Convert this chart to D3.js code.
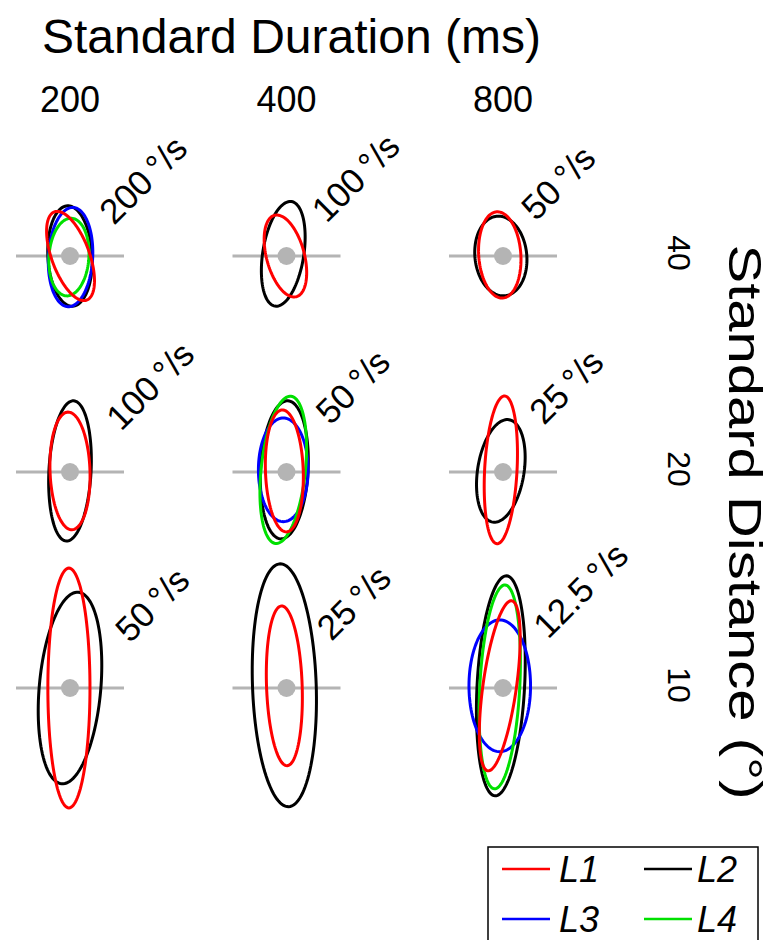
<!DOCTYPE html>
<html>
<head>
<meta charset="utf-8">
<title>Discrimination ellipses</title>
<script src="https://d3js.org/d3.v7.min.js"></script>
<style>
  body { margin: 0; background: #fff; }
  text { font-family: "Liberation Sans", Arial, sans-serif; fill: #000; }
</style>
</head>
<body>
<svg width="771" height="940"></svg>
<script>
// standard conditions
var durations = [200, 400, 800];   // ms, columns
var distances = [40, 20, 10];      // deg, rows
var levels = ["L1", "L2", "L3", "L4"];
var levelColors = ["#ff0000", "#000000", "#0000ff", "#00e000"];

// ellipse per cell (row-major, 40/200 first): [dx, dy, rx, ry, tilt deg], null = not measured
var L1 = [
  [0.01, 0.00, 0.35, 0.87, -20], [-0.02, 0.00, 0.35, 0.78, -15], [-0.06, -0.02, 0.39, 0.80, -4],
  [0.00, -0.02, 0.37, 1.09, -2],  [-0.04, -0.02, 0.35, 1.13, -2], [-0.04, -0.04, 0.30, 1.37, 3],
  [-0.02, 0.00, 0.39, 2.22, 0],   [-0.04, -0.04, 0.33, 1.48, -2], [-0.06, -0.04, 0.31, 1.59, 8]
];
var L2 = [
  [0.00, 0.00, 0.41, 0.93, -3],   [-0.06, -0.04, 0.38, 0.98, 9],  [-0.04, 0.00, 0.48, 0.74, -6],
  [0.00, -0.02, 0.39, 1.30, 3],   [-0.04, -0.04, 0.44, 1.28, 3],  [-0.04, -0.02, 0.43, 0.96, 9],
  [0.00, 0.00, 0.57, 1.78, 5],    [-0.04, -0.05, 0.59, 2.25, -2], [-0.04, -0.04, 0.44, 2.04, 3]
];
var L3 = [
  [0.01, 0.02, 0.41, 0.92, 3], null, null,
  null, [-0.06, -0.04, 0.46, 0.96, 0], null,
  null, null, [-0.06, -0.04, 0.57, 1.22, 0]
];
var L4 = [
  [-0.02, 0.02, 0.37, 0.72, 4], null, null,
  null, [-0.06, -0.04, 0.41, 1.37, 6], null,
  null, null, [-0.06, -0.02, 0.37, 1.89, 3]
];
var ellipses = [L1, L2, L3, L4];
var drawOrder = [1, 2, 3, 0];

var svg = d3.select("svg");
svg.append("rect").attr("width", 771).attr("height", 940).attr("fill", "#fff");

var x = d3.scalePoint().domain(durations).range([70, 503]);
var y = d3.scalePoint().domain(distances).range([256, 688]);
var u = d3.scaleLinear().domain([0, 1]).range([0, 54]);   // within-cell units

var gray = "#b4b4b4";
var fmt = d3.format("~g");

// headers
svg.append("text").attr("x", 42).attr("y", 53)
  .attr("font-size", 48).text("Standard Duration (ms)");

svg.selectAll(".colLab").data(durations).enter().append("text")
  .attr("x", function(d) { return x(d); }).attr("y", 112)
  .attr("text-anchor", "middle").attr("font-size", 36)
  .text(function(d) { return d; });

svg.selectAll(".rowLab").data(distances).enter().append("text")
  .attr("transform", function(d) { return "translate(668," + (y(d) - 3) + ") rotate(90)"; })
  .attr("text-anchor", "middle").attr("font-size", 32)
  .text(function(d) { return d; });

svg.append("text")
  .attr("transform", "translate(729,522) rotate(90)")
  .attr("text-anchor", "middle").attr("font-size", 46)
  .attr("textLength", 555).attr("lengthAdjust", "spacingAndGlyphs")
  .text("Standard Distance (\u00b0)");

// label anchor offsets from cell centre, by row then column
var labelOff = [
  [[44, -30], [40, -32], [33, -34]],
  [[51, -40], [44, -46], [41, -46]],
  [[60, -44], [45, -46], [45, -48]]
];

var line = d3.line().curve(d3.curveLinearClosed);

distances.forEach(function(dist, ri) {
  durations.forEach(function(dur, ci) {
    var k = ri * 3 + ci;
    var g = svg.append("g").attr("transform", "translate(" + x(dur) + "," + y(dist) + ")");

    g.append("line").attr("x1", u(-1)).attr("x2", u(1))
      .attr("stroke", gray).attr("stroke-width", 3);

    drawOrder.forEach(function(li) {
      var e = ellipses[li][k];
      if (!e) return;
      var pts = d3.range(0, 2 * Math.PI, Math.PI / 60).map(function(t) {
        return [u(e[2] * Math.cos(t)), u(e[3] * Math.sin(t))];
      });
      g.append("path")
        .attr("transform", "translate(" + u(e[0]) + "," + u(e[1]) + ") rotate(" + e[4] + ")")
        .attr("d", line(pts))
        .attr("fill", "none").attr("stroke", levelColors[li]).attr("stroke-width", 3);
    });

    g.append("circle").attr("r", 9).attr("fill", gray);

    var speed = dist / dur * 1000;
    var off = labelOff[ri][ci];
    g.append("text")
      .attr("transform", "translate(" + off[0] + "," + off[1] + ") rotate(-45)")
      .attr("font-size", 35)
      .text(fmt(speed) + "\u2009\u00b0/s");
  });
});

// legend
var leg = svg.append("g");
leg.append("rect").attr("x", 488).attr("y", 847).attr("width", 270).attr("height", 110)
  .attr("fill", "none").attr("stroke", "#000").attr("stroke-width", 1.5);
var legPos = [[502, 869], [644, 869], [502, 919], [644, 919]];
levels.forEach(function(l, i) {
  var p = legPos[i];
  leg.append("line").attr("x1", p[0]).attr("x2", p[0] + 48).attr("y1", p[1]).attr("y2", p[1])
    .attr("stroke", levelColors[i]).attr("stroke-width", 2.5);
  leg.append("text").attr("x", p[0] + (i % 2 ? 53 : 57)).attr("y", p[1] + 13)
    .attr("font-size", 36).attr("font-style", "italic").text(l);
});
</script>
</body>
</html>
